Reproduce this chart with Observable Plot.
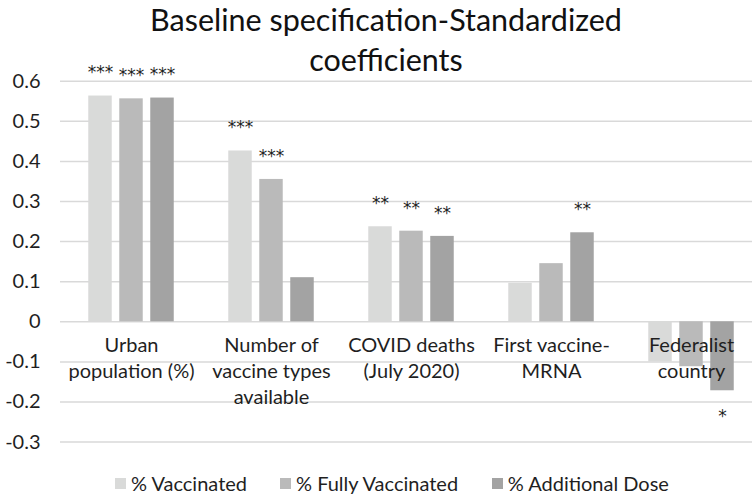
<!DOCTYPE html>
<html><head><meta charset="utf-8">
<script src="https://cdn.jsdelivr.net/npm/d3@7"></script>
<script src="https://cdn.jsdelivr.net/npm/@observablehq/plot@0.6"></script>
<style>
body{margin:0;background:#fff;}
#wrap{position:relative;width:752px;height:494px;font-family:Lato,"Open Sans",sans-serif;color:#1f1f1f;overflow:hidden;}
#chart{position:absolute;left:0;top:0;}
#title{position:absolute;left:0;width:772px;top:-1px;text-align:center;font-size:30.5px;line-height:40px;color:#111;pointer-events:none;}
.leg{position:absolute;top:472px;display:flex;align-items:center;font-size:20px;line-height:22px;white-space:nowrap;}
.sw{width:11px;height:11px;margin-right:5px;display:inline-block;}
</style></head>
<body>
<div id="wrap">
<div id="chart"></div>
<div id="title">Baseline specification-Standardized<br>coefficients</div>
</div>
<script>
const categories = ["Urban population (%)", "Number of vaccine types available", "COVID deaths (July 2020)", "First vaccine-MRNA", "Federalist country"];
const categoryLines = ["Urban\npopulation (%)", "Number of\nvaccine types\navailable", "COVID deaths\n(July 2020)", "First vaccine-\nMRNA", "Federalist\ncountry"];
const seriesNames = ["% Vaccinated", "% Fully Vaccinated", "% Additional Dose"];
const vaccinated = [0.563, 0.426, 0.237, 0.096, -0.100];
const fullyVaccinated = [0.556, 0.355, 0.226, 0.145, -0.112];
const additionalDose = [0.558, 0.110, 0.213, 0.222, -0.172];
const sigVaccinated = ["***", "***", "**", "", ""];
const sigFully = ["***", "***", "**", "", ""];
const sigAdditional = ["***", "", "**", "**", "*"];
const yTicks = [-0.3, -0.2, -0.1, 0, 0.1, 0.2, 0.3, 0.4, 0.5, 0.6];
const colors = ["#d9dad9", "#bababa", "#a3a3a3"];

const seriesValues = [vaccinated, fullyVaccinated, additionalDose];
const seriesSig = [sigVaccinated, sigFully, sigAdditional];
const rows = [];
seriesNames.forEach((s, si) => categories.forEach((c, ci) => rows.push({series: s, si, category: c, value: seriesValues[si][ci], sig: seriesSig[si][ci]})));

const offset = 31, barW = 24, band = (762 - 59.4) / categories.length;
const inset = (band - barW) / 2;

const marks = [
  Plot.ruleY(yTicks, {stroke: "#d9d9d9", strokeWidth: 1.5}),
  Plot.axisY({ticks: yTicks, tickSize: 0, tickPadding: 20, tickFormat: d => d === 0 ? "0" : d.toFixed(1), fontSize: 20, fill: "#1f1f1f", label: null}),
];
seriesNames.forEach((s, si) => {
  const data = rows.filter(r => r.si === si);
  marks.push(Plot.barY(data, {x: "category", y: "value", fill: colors[si], dx: (si - 1) * offset, insetLeft: inset, insetRight: inset}));
});
seriesNames.forEach((s, si) => {
  const data = rows.filter(r => r.si === si && r.sig);
  const starStyle = {fontSize: 17, fontFamily: "'DejaVu Sans', sans-serif", fill: "#1f1f1f"};
  marks.push(Plot.text(data.filter(r => r.value >= 0), {x: "category", y: "value", text: "sig", dx: (si - 1) * offset, dy: -23, ...starStyle}));
  marks.push(Plot.text(data.filter(r => r.value < 0), {x: "category", y: "value", text: "sig", dx: (si - 1) * offset, dy: 26, ...starStyle}));
});
marks.push(Plot.text(categories, {x: d => d, y: () => 0, text: (d, i) => categoryLines[i], lineAnchor: "top", dy: 12, fontSize: 20, lineHeight: 1.3, fill: "#1f1f1f"}));

const chart = Plot.plot({
  width: 752, height: 494,
  marginLeft: 60, marginRight: 0, marginTop: 0, marginBottom: 0,
  style: {fontFamily: "Lato, 'Open Sans', sans-serif", background: "transparent"},
  x: {domain: categories, range: [59.4, 762], padding: 0, axis: null},
  y: {domain: [-0.3, 0.6], range: [441.6, 80.7]},
  marks
});
document.getElementById("chart").appendChild(chart);

const legLeft = [115, 280, 491.7];
const wrap = document.getElementById("wrap");
seriesNames.forEach((s, i) => {
  const d = document.createElement("div");
  d.className = "leg";
  d.style.left = legLeft[i] + "px";
  d.innerHTML = `<span class="sw" style="background:${colors[i]}"></span><span>${s}</span>`;
  wrap.appendChild(d);
});
</script>
</body></html>
